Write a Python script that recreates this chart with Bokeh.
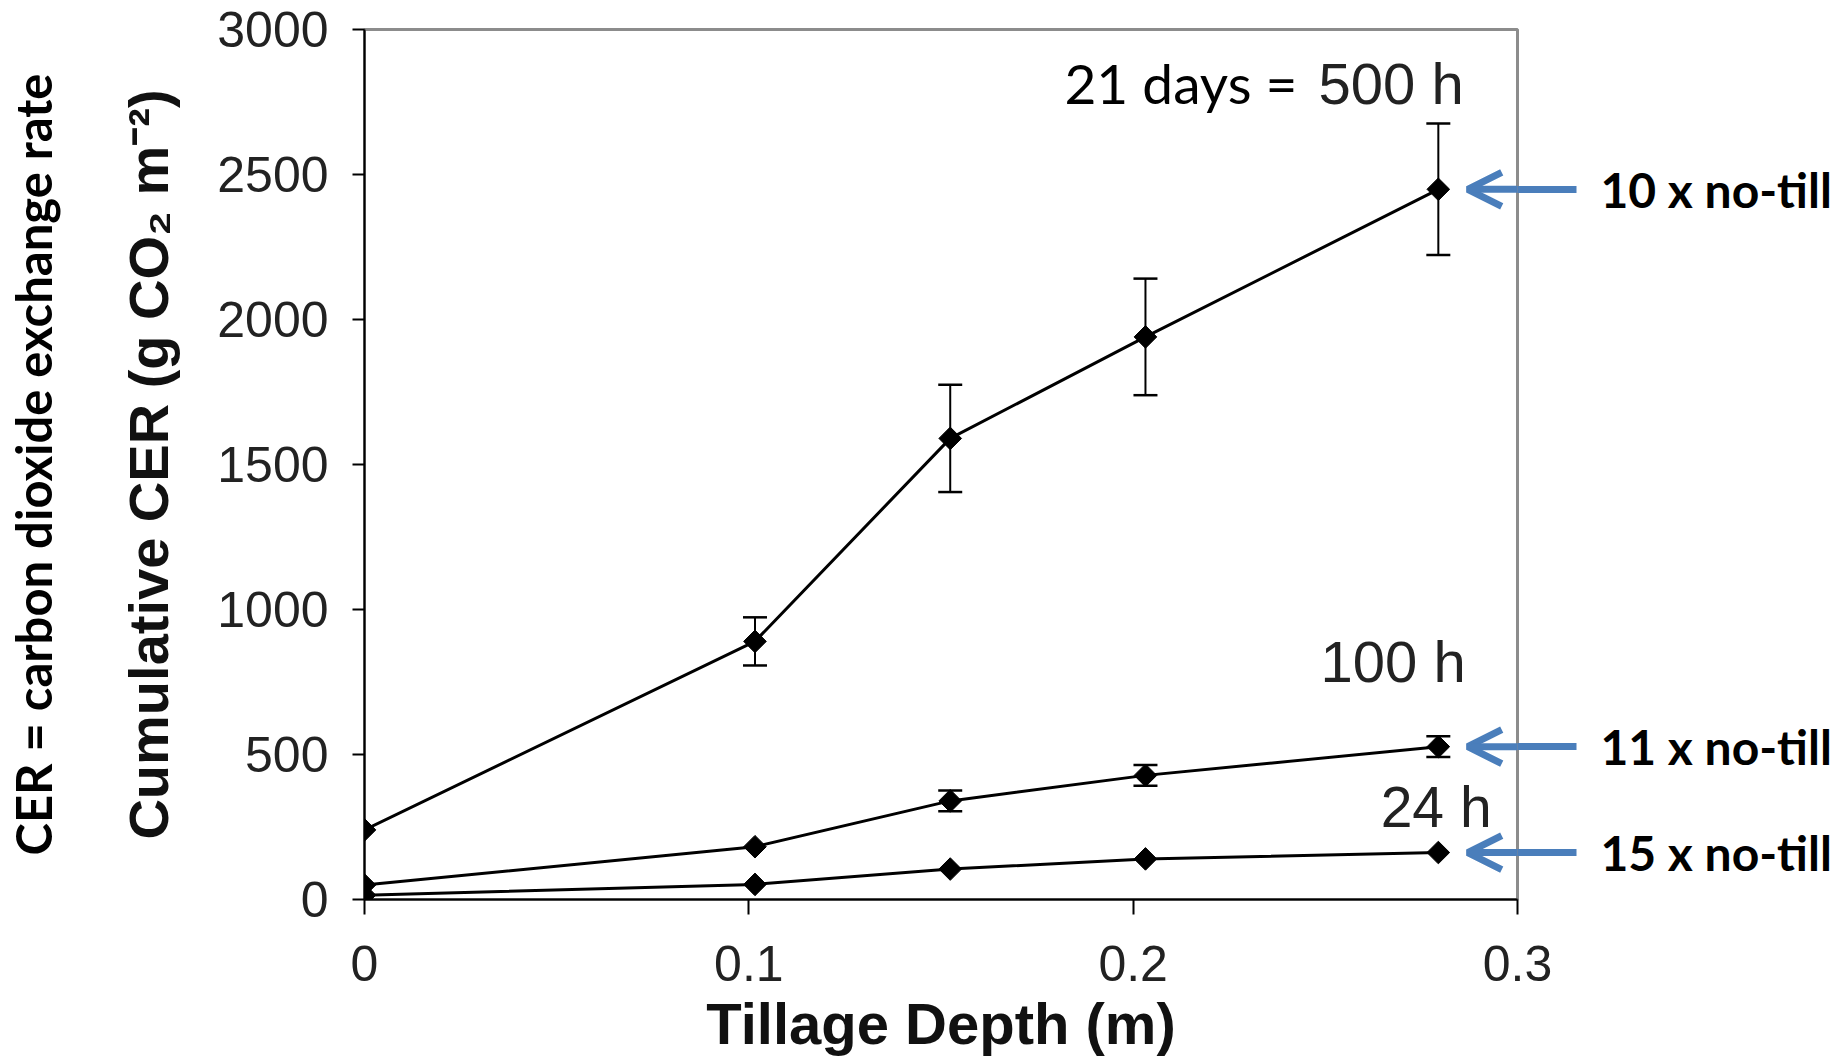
from bokeh.plotting import figure
from bokeh.models import (LinearAxis, FixedTicker, Whisker, ColumnDataSource, Label,
                          Arrow, OpenHead, Range1d, TeeHead)
from bokeh.embed import file_html
from bokeh.resources import INLINE
import math

# ---- data ----
depth = [0.0, 0.1016, 0.1524, 0.2032, 0.2794]
cer_500h = [240, 890, 1590, 1940, 2449]
err_500h = [0, 83, 185, 201, 227]
cer_100h = [50, 182, 340, 428, 527]
err_100h = [0, 0, 36, 36, 36]
cer_24h = [15, 52, 105, 140, 162]
x_ticks = [0, 0.1, 0.2, 0.3]
x_tick_labels = ["0", "0.1", "0.2", "0.3"]
y_ticks = [0, 500, 1000, 1500, 2000, 2500, 3000]
ratio_labels = ["10 x no-till", "11 x no-till", "15 x no-till"]
ratio_y = [cer_500h[-1], cer_100h[-1], cer_24h[-1]]

W, H = 1844, 1058
FL, FR, FT, FB = 359, 1517, 29, 900   # frame edges in pixels
p = figure(width=W, height=H, output_backend="svg", toolbar_location=None,
           x_range=Range1d(0, 0.3), y_range=Range1d(0, 3000),
           min_border_left=FL, min_border_right=W - FR,
           min_border_top=FT, min_border_bottom=H - FB)
p.background_fill_color = "white"
p.border_fill_color = "white"
p.grid.visible = False
p.outline_line_color = "#8c8c8c"
p.outline_line_width = 3

tick_font = "Liberation Sans"
for ax in (p.xaxis[0], p.yaxis[0]):
    ax.axis_line_color = "black"
    ax.axis_line_width = 2
    ax.major_tick_line_color = "black"
    ax.major_tick_line_width = 2
    ax.major_tick_in = 0
    ax.minor_tick_line_color = None
    ax.major_label_text_font = tick_font
    ax.major_label_text_font_size = "50px"
    ax.major_label_text_color = "#222222"
    ax.axis_label_text_font = tick_font
    ax.axis_label_text_font_style = "bold"
    ax.axis_label_text_color = "#111111"

p.xaxis[0].ticker = FixedTicker(ticks=x_ticks)
p.xaxis[0].major_label_overrides = dict(zip(x_ticks, x_tick_labels))
p.xaxis[0].major_tick_out = 15
p.xaxis[0].major_label_standoff = 31
p.xaxis[0].axis_label = "Tillage Depth (m)"
p.xaxis[0].axis_label_text_font_size = "58px"
p.xaxis[0].axis_label_standoff = 7

p.yaxis[0].ticker = FixedTicker(ticks=y_ticks)
p.yaxis[0].major_tick_out = 12
p.yaxis[0].major_label_standoff = 24
p.yaxis[0].axis_label = "Cumulative CER (g CO\u2082 m\u207b\u00b2)"
p.yaxis[0].axis_label_text_font_size = "56px"
p.yaxis[0].axis_label_standoff = 34

outer = LinearAxis(ticker=FixedTicker(ticks=[]), axis_line_color=None,
                   major_tick_line_color=None, minor_tick_line_color=None,
                   major_label_text_font_size="0px",
                   axis_label="CER = carbon dioxide exchange rate",
                   axis_label_text_font="Lato", axis_label_text_font_style="bold",
                   axis_label_text_font_size="49px", axis_label_text_color="black",
                   axis_label_standoff=53)
p.add_layout(outer, "left")

# right axis carries the "x no-till" notes and the outer part of the arrows
blue = "#4a7ebb"
right = LinearAxis(ticker=FixedTicker(ticks=ratio_y),
                   major_label_overrides=dict(zip(ratio_y, ratio_labels)),
                   axis_line_color=None, minor_tick_line_color=None,
                   major_tick_line_color=blue, major_tick_line_width=7,
                   major_tick_out=59, major_tick_in=0,
                   major_label_standoff=24,
                   major_label_text_font="Lato", major_label_text_font_style="bold",
                   major_label_text_font_size="48px", major_label_text_color="black")
p.add_layout(right, "right")

# ---- series ----
series = [(cer_500h, err_500h), (cer_100h, err_100h), (cer_24h, None)]
for vals, errs in series:
    src = ColumnDataSource(dict(x=depth, y=vals))
    p.line("x", "y", source=src, line_color="black", line_width=3)
    p.scatter("x", "y", source=src, marker="square", angle=math.pi / 4, size=16,
              fill_color="black", line_color="black")
    if errs is not None:
        esrc = ColumnDataSource(dict(
            x=[d for d, e in zip(depth, errs) if e > 0],
            lo=[v - e for v, e in zip(vals, errs) if e > 0],
            hi=[v + e for v, e in zip(vals, errs) if e > 0]))
        p.add_layout(Whisker(source=esrc, base="x", lower="lo", upper="hi",
                             line_color="black", line_width=2,
                             upper_head=TeeHead(size=24, line_color="black", line_width=2.5),
                             lower_head=TeeHead(size=24, line_color="black", line_width=2.5)))

# ---- annotations ----
def px2x(px):
    return (px - FL) / (FR - FL) * 0.3

def px2y(py):
    return (FB - py) / (FB - FT) * 3000

p.add_layout(Label(x=px2x(1062), y=px2y(83), text="21 days =", text_font="Lato",
                   text_font_size="55px", text_align="left", text_baseline="alphabetic",
                   text_color="black"))
p.add_layout(Label(x=px2x(1463), y=px2y(83), text="500 h", text_font=tick_font,
                   text_font_size="58px", text_align="right", text_baseline="alphabetic",
                   text_color="#222222"))
p.add_layout(Label(x=px2x(1465), y=px2y(662), text="100 h", text_font=tick_font,
                   text_font_size="58px", text_align="right", text_baseline="alphabetic",
                   text_color="#222222"))
p.add_layout(Label(x=px2x(1491), y=px2y(807), text="24 h", text_font=tick_font,
                   text_font_size="57px", text_align="right", text_baseline="alphabetic",
                   text_color="#222222"))

for yv in ratio_y:
    p.add_layout(Arrow(x_start=0.3, y_start=yv, x_end=px2x(1467), y_end=yv,
                       line_color=blue, line_width=7,
                       end=OpenHead(size=34, line_color=blue, line_width=7)))

open("out.html", "w").write(file_html(p, INLINE))
